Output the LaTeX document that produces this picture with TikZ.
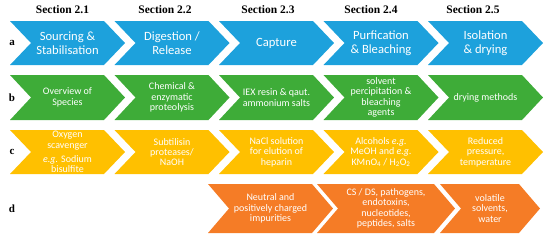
\documentclass[tikz,border=0pt]{standalone}
\usepackage{fontspec}
\setmainfont{Liberation Serif}
\newfontfamily\carl{Carlito}
\definecolor{cblue}{RGB}{29,161,220}
\definecolor{cgreen}{RGB}{62,172,56}
\definecolor{cyellow}{RGB}{255,192,0}
\definecolor{corange}{RGB}{245,124,38}
\newcommand\chv[8]{%
  \fill[#2] (#3,#5) -- (#4,#5) -- ({#4+21},{(#5+#6)/2}) -- (#4,#6) -- (#3,#6) -- ({#3+21},{(#5+#6)/2}) -- cycle;
  \node[rowtext,#7] (#1) at ({(#3+#4+21)/2},{(#5+#6)/2}) {#8};%
}
\begin{document}
\begin{tikzpicture}[x=1pt,y=-1pt,
  rowtext/.style={align=center,text=white,inner sep=0pt,font=\carl\fontsize{10}{10.4}\selectfont},
  bigtext/.style={font=\carl\fontsize{12.6}{14}\selectfont},
  header/.style={font=\bfseries\fontsize{11.5}{12}\selectfont,inner sep=0pt},
  rowlabel/.style={font=\bfseries\fontsize{11}{12}\selectfont,inner sep=0pt}]
\useasboundingbox (0,0) rectangle (550,239);
% headers
\node[header] (h1) at (62.5,10) {Section 2.1};
\node[header] (h2) at (165,10) {Section 2.2};
\node[header] (h3) at (268,10) {Section 2.3};
\node[header] (h4) at (371,10) {Section 2.4};
\node[header] (h5) at (473,10) {Section 2.5};
% row labels
\node[rowlabel] (la) at (12,43) {a};
\node[rowlabel] (lb) at (12,97.5) {b};
\node[rowlabel] (lc) at (12,152) {c};
\node[rowlabel] (ld) at (12,208.5) {d};
% row a
\chv{a1}{cblue}{10}{104}{21}{65}{bigtext}{Sourcing \&\\Stabilisation}
\chv{a2}{cblue}{114.5}{208.5}{21}{65}{bigtext}{Digestion /\\Release}
\chv{a3}{cblue}{219}{313}{21}{65}{bigtext}{Capture}
\chv{a4}{cblue}{323.5}{417.5}{21}{65}{bigtext}{Purfication\\\& Bleaching}
\chv{a5}{cblue}{428}{522}{21}{65}{bigtext}{Isolation\\\& drying}
% row b
\chv{b1}{cgreen}{10}{104}{75}{120}{}{Overview of\\Species}
\chv{b2}{cgreen}{114.5}{208.5}{75}{120}{}{Chemical \&\\enzymatic\\proteolysis}
\chv{b3}{cgreen}{219}{313}{75}{120}{}{IEX resin \& qaut.\\ammonium salts}
\chv{b4}{cgreen}{323.5}{417.5}{75}{120}{}{solvent\\percipitation \&\\bleaching\\agents}
\chv{b5}{cgreen}{428}{522}{75}{120}{}{drying methods}
% row c
\chv{c1}{cyellow}{10}{104}{130}{174}{}{Oxygen\\scavenger\\[4pt]\textit{e.g.} Sodium\\bisulfite}
\chv{c2}{cyellow}{114.5}{208.5}{130}{174}{}{Subtilisin\\proteases/\\NaOH}
\chv{c3}{cyellow}{219}{313}{130}{174}{}{NaCl solution\\for elution of\\heparin}
\chv{c4}{cyellow}{323.5}{417.5}{130}{174}{}{Alcohols \textit{e.g.}\\MeOH and \textit{e.g.}\\KMnO\textsubscript{4} / H\textsubscript{2}O\textsubscript{2}}
\chv{c5}{cyellow}{428}{522}{130}{174}{}{Reduced\\pressure,\\temperature}
% row d
\chv{d3}{corange}{208}{312}{184}{233}{}{Neutral and\\positively charged\\impurities}
\chv{d4}{corange}{317}{434}{184}{233}{}{CS / DS, pathogens,\\endotoxins,\\nucleotides,\\peptides, salts}
\chv{d5}{corange}{440}{519}{184}{233}{}{volatile\\solvents,\\water}
\end{tikzpicture}
\end{document}
